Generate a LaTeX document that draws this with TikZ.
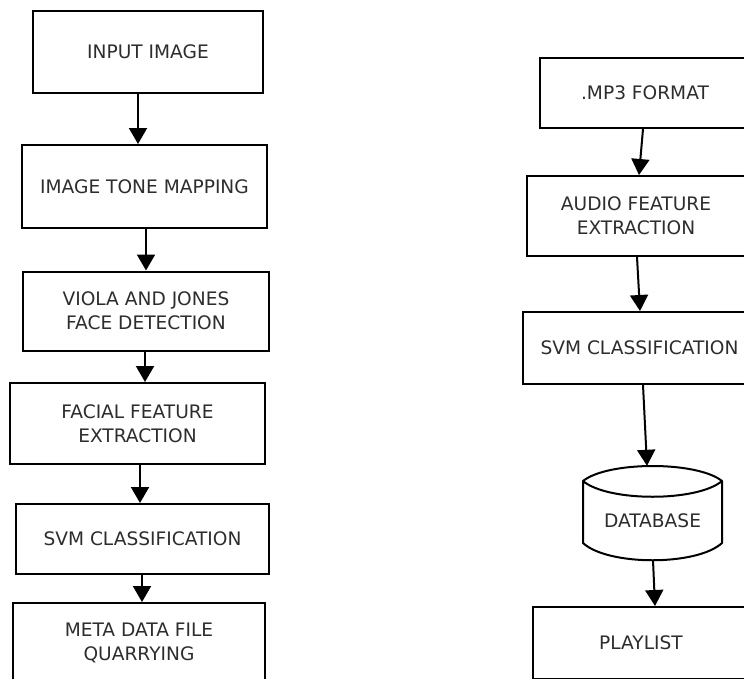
\documentclass[tikz,border=0pt]{standalone}
\usepackage{fontspec}
\setmainfont{DejaVu Sans}
\usetikzlibrary{arrows.meta}
\definecolor{txtgray}{RGB}{45,45,45}
\begin{document}
\begin{tikzpicture}[x=1pt,y=-1pt,
  box/.style={draw=black,line width=2pt,rectangle,inner sep=0pt,align=center,
    text=txtgray,font=\fontsize{18.6}{24}\selectfont},
  arr/.style={draw=black,line width=2pt,-{Triangle[width=18pt,length=16pt]}},
  dbline/.style={draw=black,line width=2pt,line join=round}]
\useasboundingbox (0,0) rectangle (744,678);
\clip (0,0) rectangle (744,678);
% left column
\node[box,minimum width=230pt,minimum height=82pt] (in) at (148,52) {INPUT IMAGE};
\node[box,minimum width=245pt,minimum height=83pt] (tone) at (144.5,186.5) {IMAGE TONE MAPPING};
\node[box,minimum width=246pt,minimum height=79pt] (viola) at (146,311) {VIOLA AND JONES\\FACE DETECTION};
\node[box,minimum width=255pt,minimum height=81pt] (facial) at (137.5,423.5) {FACIAL FEATURE\\EXTRACTION};
\node[box,minimum width=253pt,minimum height=70pt] (svma) at (142.5,539) {SVM CLASSIFICATION};
\node[box,minimum width=252pt,minimum height=80pt] (meta) at (139,643) {META DATA FILE\\QUARRYING};
% right column
\node[box,minimum width=210pt,minimum height=70pt] (mp3) at (645,93) {.MP3 FORMAT};
\node[box,minimum width=218pt,minimum height=80pt] (audio) at (636,216) {AUDIO FEATURE\\EXTRACTION};
\node[box,minimum width=233pt,minimum height=72pt] (svmb) at (639.5,348) {SVM CLASSIFICATION};
\node[inner sep=0pt,minimum width=139pt,minimum height=94pt,text=txtgray,
  text height=29pt,text depth=0pt,
  font=\fontsize{18.6}{24}\selectfont] (db) at (652.5,513) {DATABASE};
\draw[dbline] (583,481) .. controls (608,461) and (697,461) .. (722,481)
  .. controls (697,502) and (608,502) .. (583,481) -- (583,543)
  .. controls (608,566) and (697,566) .. (722,543) -- (722,481);
\node[box,minimum width=216pt,minimum height=72pt] (play) at (641,643) {PLAYLIST};
% arrows left
\draw[arr] (in.south -| 138,0) -- (tone.north -| 138,0);
\draw[arr] (tone.south -| 146,0) -- (viola.north -| 146,0);
\draw[arr] (viola.south -| 145,0) -- (facial.north -| 145,0);
\draw[arr] (facial.south -| 140,0) -- (svma.north -| 140,0);
\draw[arr] (svma.south -| 142,0) -- (meta.north -| 142,0);
% arrows right
\draw[arr] (mp3.south -| 643,0) -- (audio.north -| 639,0);
\draw[arr] (audio.south -| 637,0) -- (svmb.north -| 640,0);
\draw[arr] (svmb.south -| 643,0) -- (db.north -| 647,0);
\draw[arr] (db.south -| 653,0) -- (play.north -| 655,0);
\end{tikzpicture}
\end{document}
